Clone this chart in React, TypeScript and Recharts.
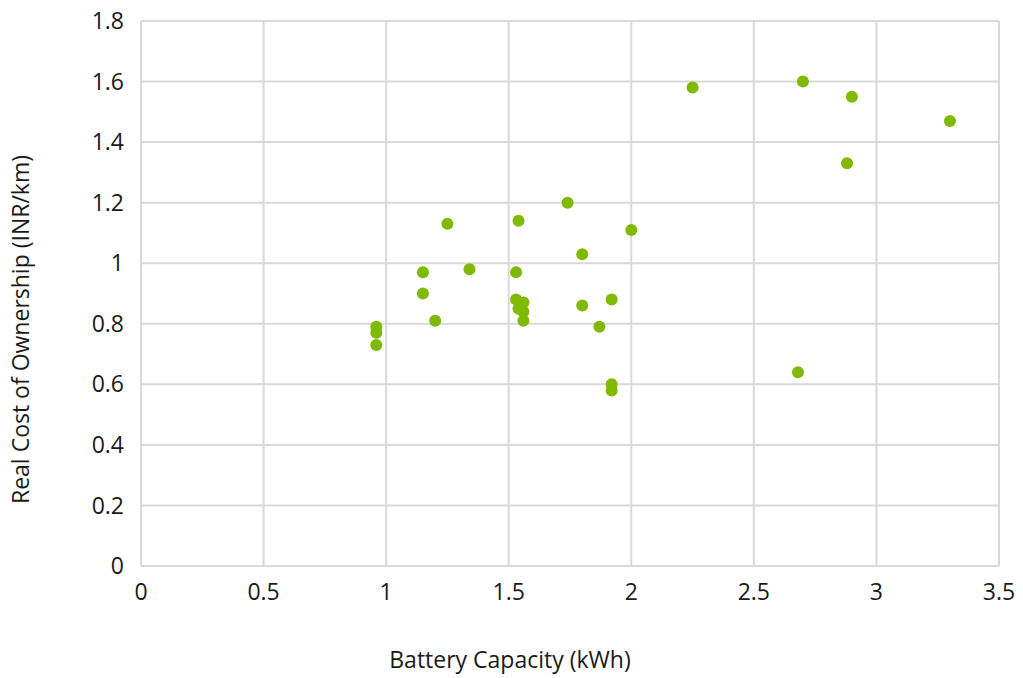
import { ScatterChart, Scatter, XAxis, YAxis, CartesianGrid, Label } from "recharts"

// battery capacity (kWh) vs real cost of ownership (INR/km)
const capacity = [
  0.96, 0.96, 0.96, 1.15, 1.15, 1.2, 1.25, 1.34, 1.54, 1.53,
  1.53, 1.54, 1.56, 1.56, 1.56, 1.74, 1.8, 1.8, 1.87, 1.92,
  1.92, 1.92, 2.0, 2.25, 2.7, 2.9, 2.88, 2.68, 3.3,
]
const cost = [
  0.79, 0.77, 0.73, 0.97, 0.9, 0.81, 1.13, 0.98, 1.14, 0.97,
  0.88, 0.85, 0.87, 0.84, 0.81, 1.2, 1.03, 0.86, 0.79, 0.88,
  0.6, 0.58, 1.11, 1.58, 1.6, 1.55, 1.33, 0.64, 1.47,
]
const xTicks = [0, 0.5, 1, 1.5, 2, 2.5, 3, 3.5]
const yTicks = [0, 0.2, 0.4, 0.6, 0.8, 1, 1.2, 1.4, 1.6, 1.8]

const points = capacity.map((x, i) => ({ x, y: cost[i] }))

const font = "'Open Sans', sans-serif"
const ink = "#1a1a1a"
const tickStyle = { fontSize: 23, fill: ink, fontFamily: font }

const Dot = (props: any) => <circle cx={props.cx} cy={props.cy} r={6} fill="#7fba00" />

export default function App() {
  return (
    <div style={{ position: "absolute", left: 0, top: 0 }}>
      <ScatterChart width={1023} height={678} margin={{ top: 21, right: 24, left: 0, bottom: 12 }}>
        <CartesianGrid stroke="#d9d9d9" strokeWidth={2} />
        <XAxis
          type="number"
          dataKey="x"
          domain={[0, 3.5]}
          ticks={xTicks}
          axisLine={{ stroke: "#d9d9d9", strokeWidth: 2 }}
          tickLine={false}
          tick={tickStyle}
          tickMargin={12}
          height={100}
        >
          <Label
            content={({ viewBox }: any) => (
              <text x={viewBox.x + viewBox.width / 2 - 60} y={viewBox.y + 102} textAnchor="middle"
                fontSize={23} fill={ink} fontFamily={font}>
                Battery Capacity (kWh)
              </text>
            )}
          />
        </XAxis>
        <YAxis
          type="number"
          dataKey="y"
          domain={[0, 1.8]}
          ticks={yTicks}
          axisLine={{ stroke: "#d9d9d9", strokeWidth: 2 }}
          tickLine={false}
          tick={tickStyle}
          tickMargin={11}
          width={141}
        >
          <Label
            content={({ viewBox }: any) => {
              const cx = 29
              const cy = viewBox.y + viewBox.height / 2 + 36
              return (
                <text x={cx} y={cy} transform={`rotate(-90 ${cx} ${cy})`} textAnchor="middle"
                  fontSize={23} fill={ink} fontFamily={font}>
                  Real Cost of Ownership (INR/km)
                </text>
              )
            }}
          />
        </YAxis>
        <Scatter data={points} fill="#7fba00" shape={Dot} isAnimationActive={false} />
      </ScatterChart>
    </div>
  )
}
